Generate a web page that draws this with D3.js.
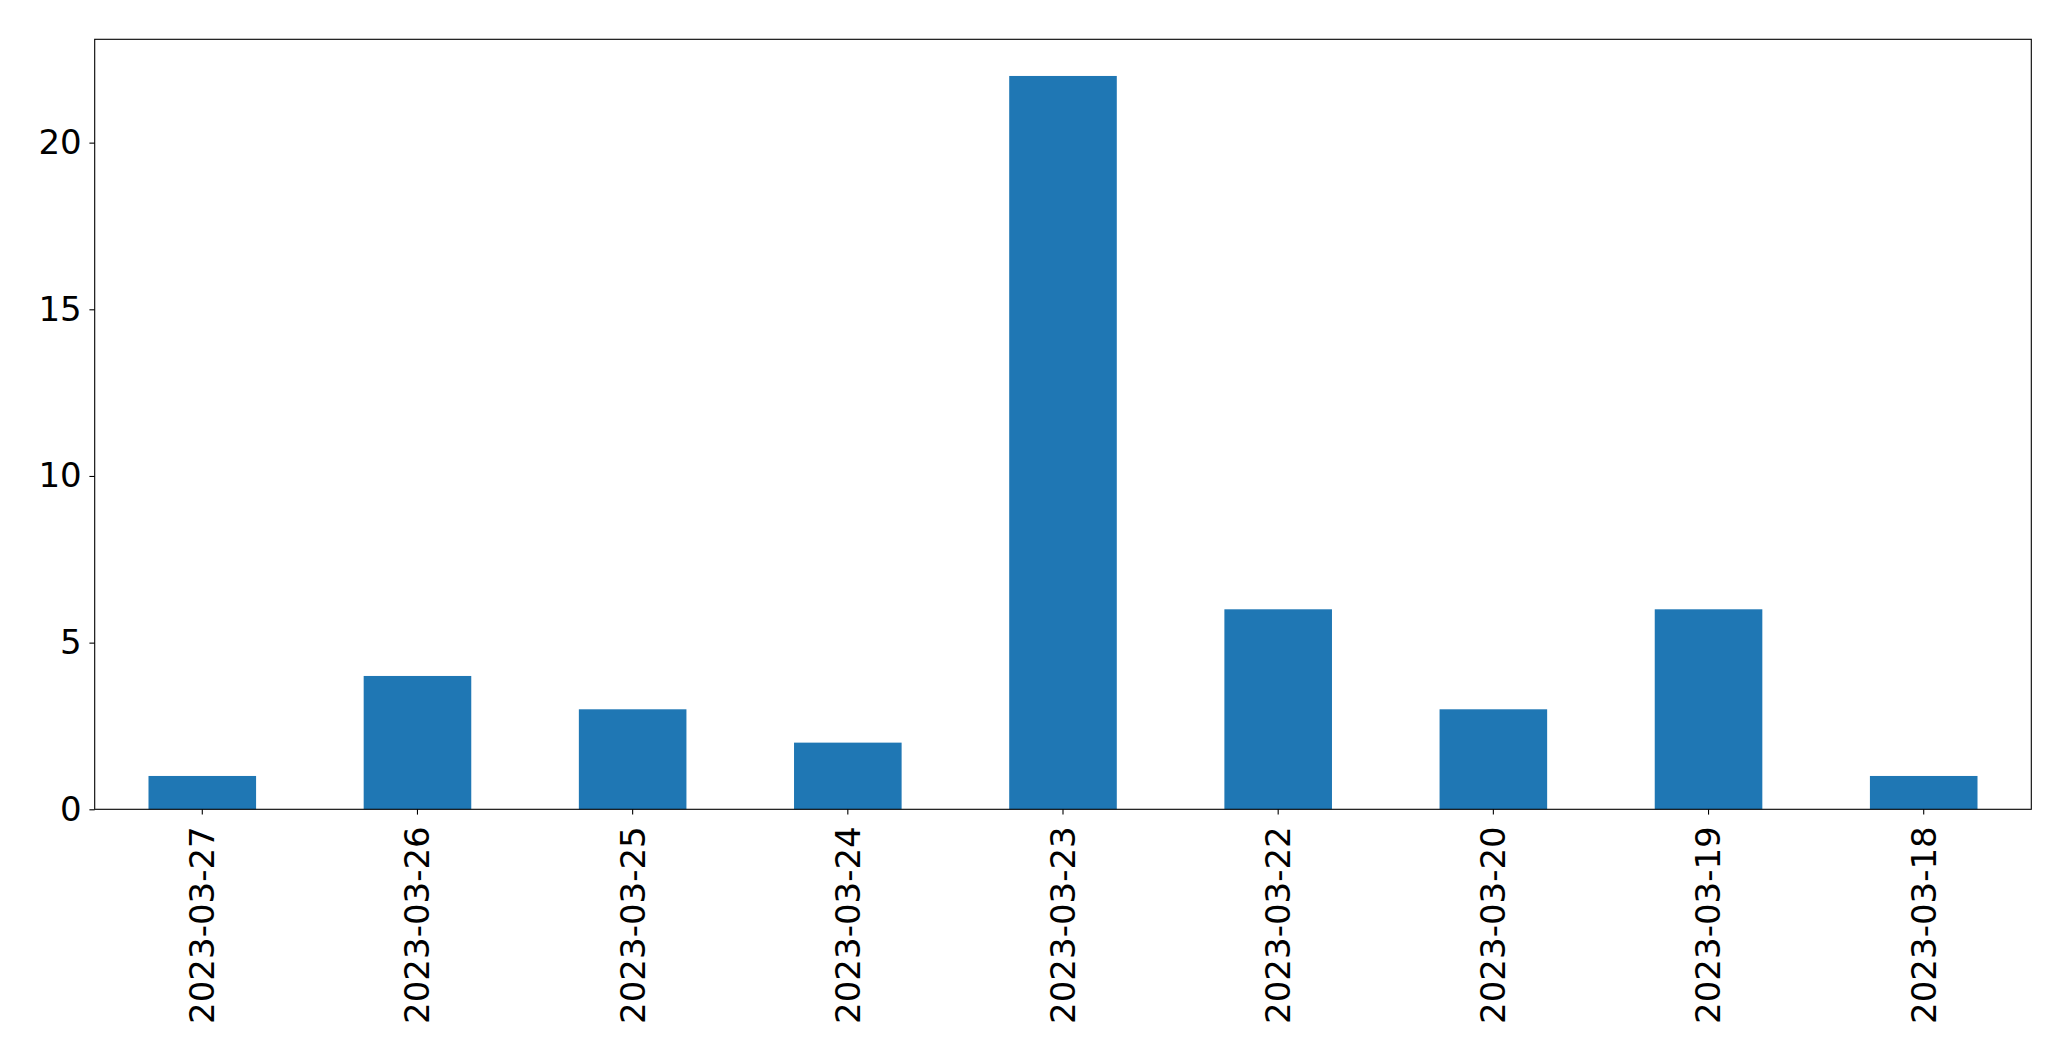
<!DOCTYPE html>
<html>
<head>
<meta charset="utf-8">
<script src="https://cdn.jsdelivr.net/npm/d3@7"></script>
<style>
  body { margin: 0; background: #fff; }
  svg { display: block; }
  text { font-family: "DejaVu Sans", sans-serif; fill: #000; }
</style>
</head>
<body>
<svg id="chart"></svg>
<script>
// data
let dates = ['2023-03-27', '2023-03-26', '2023-03-25', '2023-03-24', '2023-03-23',
             '2023-03-22', '2023-03-20', '2023-03-19', '2023-03-18'];
let counts = [1, 4, 3, 2, 22, 6, 3, 6, 1];
let yTicks = [0, 5, 10, 15, 20];

let width = 2071;
let height = 1061;
let margin = { top: 39.3, right: 2071 - 2031.3, bottom: 1061 - 809.3, left: 94.7 };
let fontSize = 34;

let svg = d3.select('#chart')
    .attr('width', width)
    .attr('height', height);

let x = d3.scaleBand()
    .domain(dates)
    .range([margin.left, width - margin.right])
    .paddingInner(0.5)
    .paddingOuter(0.25);

let y = d3.scaleLinear()
    .domain([0, d3.max(counts) * 1.05])
    .range([height - margin.bottom, margin.top]);

// bars
svg.append('g')
    .selectAll('rect')
    .data(counts)
    .enter()
    .append('rect')
        .attr('x', function(d, i) { return x(dates[i]); })
        .attr('y', function(d) { return y(d); })
        .attr('width', x.bandwidth())
        .attr('height', function(d) { return y(0) - y(d); })
        .style('fill', '#1f77b4');

// x axis
let xAxis = svg.append('g')
    .attr('transform', 'translate(0,' + (height - margin.bottom) + ')')
    .call(d3.axisBottom(x).tickSize(5.3).tickPadding(12));
xAxis.select('.domain').remove();
xAxis.selectAll('line').attr('stroke', '#000').attr('stroke-width', 1.1);
xAxis.selectAll('text')
    .style('font-size', fontSize + 'px')
    .attr('transform', 'rotate(-90)')
    .attr('x', -17)
    .attr('y', 0)
    .attr('dy', '0.35em')
    .style('text-anchor', 'end');

// y axis
let yAxis = svg.append('g')
    .attr('transform', 'translate(' + margin.left + ',0)')
    .call(d3.axisLeft(y).tickValues(yTicks).tickSize(5.3).tickPadding(7.7));
yAxis.select('.domain').remove();
yAxis.selectAll('line').attr('stroke', '#000').attr('stroke-width', 1.1);
yAxis.selectAll('text').style('font-size', fontSize + 'px');

// frame
svg.append('rect')
    .attr('x', margin.left)
    .attr('y', margin.top)
    .attr('width', width - margin.left - margin.right)
    .attr('height', height - margin.top - margin.bottom)
    .style('fill', 'none')
    .style('stroke', '#000')
    .style('stroke-width', 1.1);
</script>
</body>
</html>
